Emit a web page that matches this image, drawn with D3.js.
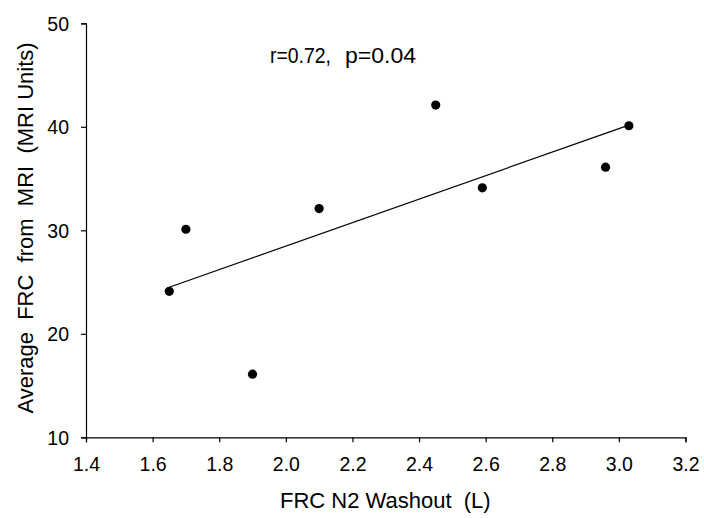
<!DOCTYPE html>
<html>
<head>
<meta charset="utf-8">
<script src="https://cdn.jsdelivr.net/npm/d3@7"></script>
<style>
  body { margin: 0; background: #fff; }
  text { font-family: "Liberation Sans", Arial, sans-serif; fill: #000; }
</style>
</head>
<body>
<div id="chart"></div>
<script>
// FRC by N2 washout (L) vs average FRC from MRI
var xValues = [1.65, 1.70, 1.90, 2.10, 2.45, 2.59, 2.96, 3.03];
var yValues = [24.1, 30.1, 16.1, 32.1, 42.1, 34.1, 36.1, 40.1];
var xTicks = [1.4, 1.6, 1.8, 2.0, 2.2, 2.4, 2.6, 2.8, 3.0, 3.2];
var yTicks = [10, 20, 30, 40, 50];
var statsLabel = ["r=0.72,", "p=0.04"];

var width = 704, height = 518;
var x = d3.scaleLinear().domain([1.4, 3.2]).range([86, 685.5]);
var y = d3.scaleLinear().domain([10, 50]).range([437.3, 23.3]);

var svg = d3.select("#chart").append("svg")
            .attr("width", width)
            .attr("height", height);

var xAxis = svg.append("g")
               .attr("transform", "translate(0," + y(10) + ")")
               .call(d3.axisBottom(x).tickValues(xTicks).tickFormat(d3.format(".1f"))
                       .tickSizeOuter(0).tickSize(5).tickPadding(15));

var yAxis = svg.append("g")
               .attr("transform", "translate(" + x(1.4) + ",0)")
               .call(d3.axisLeft(y).tickValues(yTicks).tickFormat(d3.format("d"))
                       .tickSizeOuter(0).tickSize(5).tickPadding(12));

svg.selectAll(".tick text")
   .style("font-size", "19.5px")
   .style("font-family", "'Liberation Sans', Arial, sans-serif");
svg.selectAll(".domain, .tick line").attr("stroke", "#000").attr("stroke-width", 1.2);
yAxis.selectAll(".tick text").attr("dy", "0.36em");

// least squares fit, drawn over the data range
var n = xValues.length;
var mx = d3.mean(xValues), my = d3.mean(yValues);
var sxy = 0, sxx = 0;
for (var i = 0; i < n; i++) {
  sxy += (xValues[i] - mx) * (yValues[i] - my);
  sxx += (xValues[i] - mx) * (xValues[i] - mx);
}
var slope = sxy / sxx, intercept = my - slope * mx;
var xmin = d3.min(xValues), xmax = d3.max(xValues);

svg.append("line")
   .attr("x1", x(xmin)).attr("y1", y(intercept + slope * xmin))
   .attr("x2", x(xmax)).attr("y2", y(intercept + slope * xmax))
   .style("stroke", "#000")
   .style("stroke-width", 1.2);

svg.selectAll("circle.pt")
   .data(xValues)
   .enter()
   .append("circle")
   .attr("class", "pt")
   .attr("cx", function (d) { return x(d); })
   .attr("cy", function (d, i) { return y(yValues[i]); })
   .attr("r", 4.6)
   .style("fill", "#000");

var stats = svg.append("text")
               .attr("y", 63)
               .style("font-size", "22px");
stats.append("tspan").attr("x", 270).attr("textLength", 61)
     .attr("lengthAdjust", "spacingAndGlyphs").text(statsLabel[0]);
stats.append("tspan").attr("x", 345).attr("textLength", 71)
     .attr("lengthAdjust", "spacingAndGlyphs").text(statsLabel[1]);

svg.append("text")
   .attr("x", 280)
   .attr("y", 508)
   .attr("xml:space", "preserve")
   .style("font-size", "22px")
   .text("FRC N2 Washout  (L)");

svg.append("text")
   .attr("transform", "translate(33,228) rotate(-90)")
   .attr("text-anchor", "middle")
   .attr("xml:space", "preserve")
   .style("font-size", "22px")
   .text("Average  FRC  from  MRI  (MRI Units)");
</script>
</body>
</html>
